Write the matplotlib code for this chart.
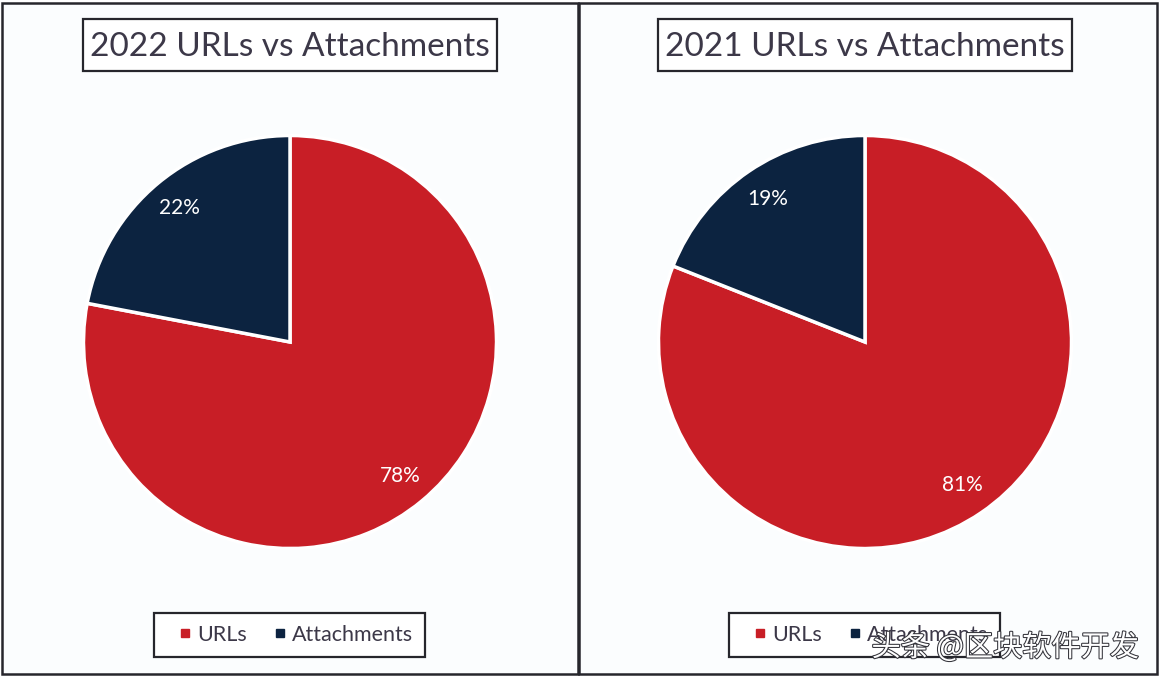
"""Two side by side pies: URLs vs attachments for 2022 and 2021."""

import matplotlib

matplotlib.use("Agg")
import matplotlib.patheffects as pe
import matplotlib.pyplot as plt
from matplotlib.lines import Line2D
from matplotlib.patches import Rectangle

W, H = 1160, 680

CATEGORIES = ["URLs", "Attachments"]
VALUES_2022 = [78, 22]
VALUES_2021 = [81, 19]
TITLE_2022 = "2022 URLs vs Attachments"
TITLE_2021 = "2021 URLs vs Attachments"
WATERMARK = "头条 @区块软件开发"

COLORS = ["#c81e26", "#0c2340"]
EDGE = "#26262c"
TEXT = "#3c3848"

plt.rcParams["font.family"] = ["Lato", "DejaVu Sans"]


def fx(x):
    return x / W


def fy(y):
    return 1 - y / H


def frame(fig, x0, y0, x1, y1, lw, face="none", zorder=1):
    # rectangle given in image pixels, y going down
    fig.add_artist(Rectangle((fx(x0), fy(y1)), fx(x1) - fx(x0), fy(y0) - fy(y1),
                             transform=fig.transFigure, facecolor=face,
                             edgecolor=EDGE, linewidth=lw, zorder=zorder))


def draw_panel(fig, values, title, left):
    frame(fig, left + 81, 19, left + 495, 71, 1.6, face="white")
    fig.text(fx(left + 288), fy(47.5), title, ha="center", va="center",
             fontsize=24, color=TEXT)

    ax = fig.add_axes([fx(left + 81.5), fy(548.5), 413 / W, 413 / H])
    _, _, pcts = ax.pie(
        values, colors=COLORS, startangle=90, counterclock=False,
        autopct="%d%%", pctdistance=0.84, radius=1,
        wedgeprops={"edgecolor": "white", "linewidth": 2.5},
    )
    for t in pcts:
        t.set_color("white")
        t.set_fontsize(15)
    ax.set_xlim(-1, 1)
    ax.set_ylim(-1, 1)

    handles = [Line2D([], [], linestyle="none", marker="s", markersize=5.5, color=c)
               for c in COLORS]
    fig.legend(
        handles, CATEGORIES, ncol=2, loc="center",
        bbox_to_anchor=(fx(left + 287.5), fy(635)),
        fontsize=15.5, frameon=True, fancybox=False, framealpha=1,
        edgecolor=EDGE, labelcolor=TEXT, handlelength=1.77, handletextpad=-0.33,
        columnspacing=0.65, borderpad=0.55, borderaxespad=0,
    ).get_frame().set_linewidth(1.6)


def main():
    fig = plt.figure(figsize=(W / 100, H / 100), dpi=100, facecolor="white")
    frame(fig, 2, 3, 578, 674, 1.8, face="#fbfdfe", zorder=-2)
    frame(fig, 579, 3, 1157, 674, 1.8, face="#fbfdfe", zorder=-2)

    draw_panel(fig, VALUES_2022, TITLE_2022, 2)
    draw_panel(fig, VALUES_2021, TITLE_2021, 577)

    fig.text(fx(1005), fy(648), WATERMARK, ha="center", va="center", fontsize=21,
             family=["Noto Sans CJK SC", "DejaVu Sans"], color="white",
             path_effects=[pe.withStroke(linewidth=1.5, foreground="#33333a")],
             zorder=10)

    fig.savefig("out.png", dpi=100)


if __name__ == "__main__":
    main()
